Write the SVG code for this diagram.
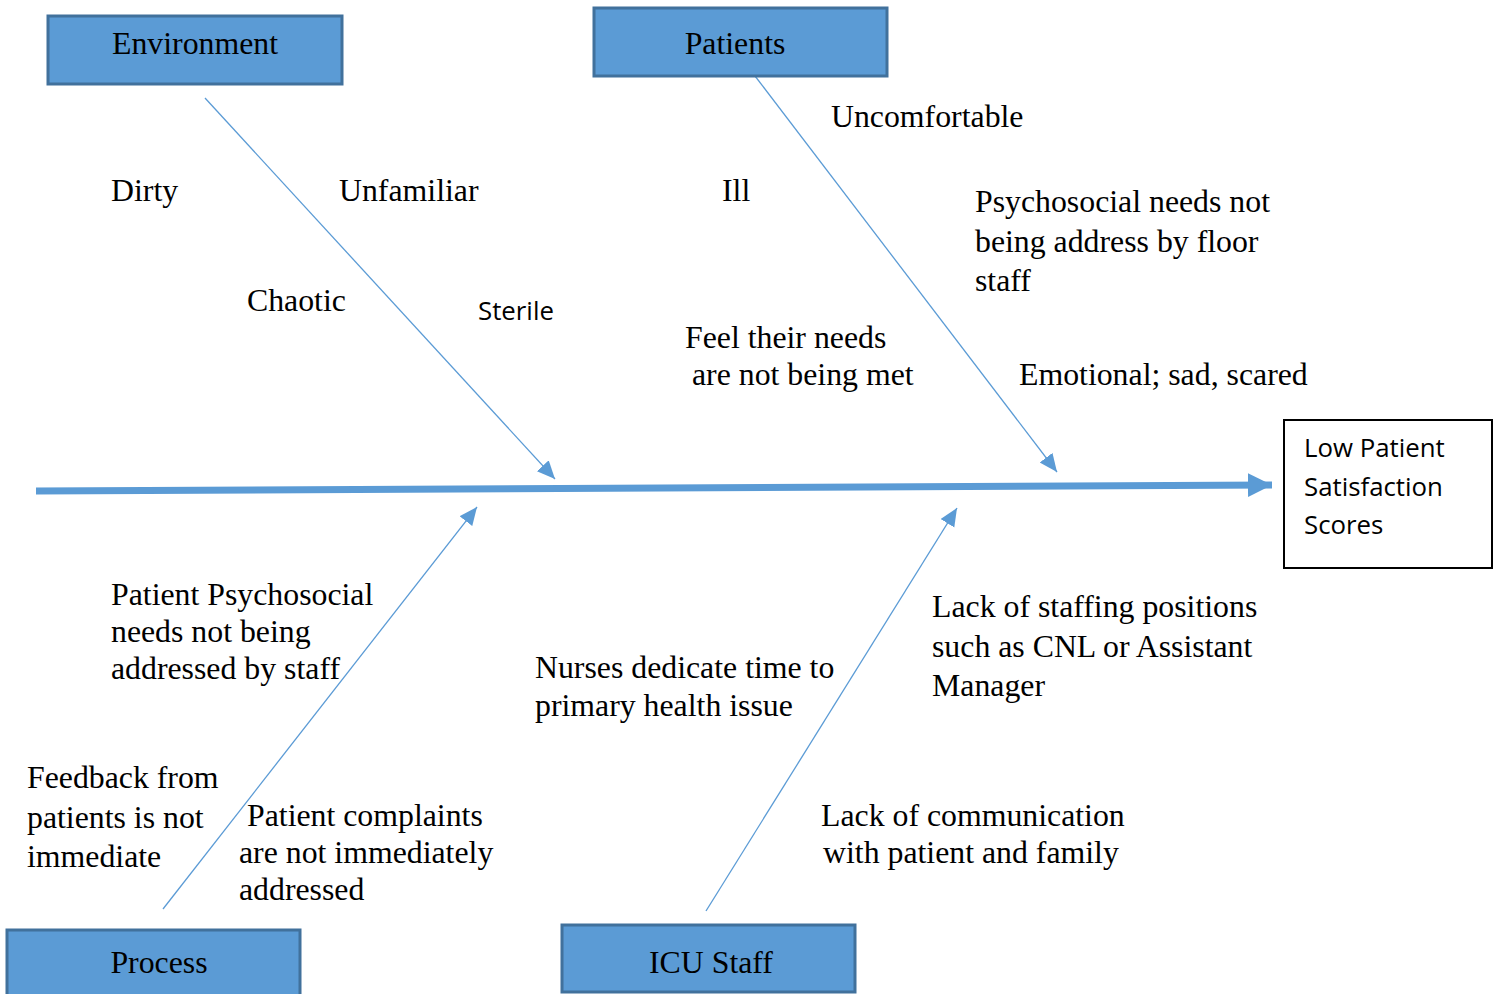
<svg xmlns="http://www.w3.org/2000/svg" width="1500" height="994" viewBox="0 0 1500 994">
<defs>
<style>
.cat{fill:#5B9BD5;stroke:#41719C;stroke-width:3}
.t{font-family:"Liberation Serif","Times New Roman",serif;font-size:31.8px;fill:#000}
.tc{font-family:"Liberation Serif","Times New Roman",serif;font-size:31.8px;fill:#000;text-anchor:middle}
.s{font-family:"Open Sans","Liberation Sans",sans-serif;font-size:25.8px;fill:#000}
.bone{stroke:#5B9BD5;stroke-width:1.3;fill:none}
</style>
<marker id="ah" markerUnits="userSpaceOnUse" markerWidth="22" markerHeight="18" refX="18" refY="8" orient="auto">
<path d="M0,0 L18,8 L0,16 Z" fill="#5B9BD5"/>
</marker>
<marker id="big" markerUnits="userSpaceOnUse" markerWidth="26" markerHeight="28" refX="24" refY="12" orient="auto">
<path d="M0,0 L24,12 L0,24 Z" fill="#5B9BD5"/>
</marker>
</defs>
<rect width="1500" height="994" fill="#fff"/>
<g id="connectors">
<line x1="36" y1="491" x2="1272" y2="485" stroke="#5B9BD5" stroke-width="7" marker-end="url(#big)"/>
<line class="bone" x1="205" y1="98" x2="555" y2="479" marker-end="url(#ah)"/>
<line class="bone" x1="755" y1="76" x2="1057" y2="472" marker-end="url(#ah)"/>
<line class="bone" x1="163" y1="909" x2="477" y2="507" marker-end="url(#ah)"/>
<line class="bone" x1="706" y1="911" x2="957" y2="508" marker-end="url(#ah)"/>
</g>
<g id="environment">
<rect class="cat" x="48" y="16" width="294" height="68"/>
<text class="tc" x="195" y="54">Environment</text>
</g>
<g id="patients">
<rect class="cat" x="594" y="8" width="293" height="68"/>
<text class="tc" x="735" y="54">Patients</text>
</g>
<g id="process">
<rect class="cat" x="7" y="930" width="293" height="68"/>
<text class="tc" x="159" y="973">Process</text>
</g>
<g id="icu-staff">
<rect class="cat" x="562" y="925" width="293" height="67"/>
<text class="tc" x="711" y="973">ICU Staff</text>
</g>
<g id="effect">
<rect x="1284" y="420" width="208" height="148" fill="#fff" stroke="#000" stroke-width="2"/>
<text class="s" x="1304" y="457">Low Patient</text>
<text class="s" x="1304" y="496">Satisfaction</text>
<text class="s" x="1304" y="534">Scores</text>
</g>
<g id="labels">
<text class="t" x="111" y="201">Dirty</text>
<text class="t" x="339" y="201">Unfamiliar</text>
<text class="t" x="722" y="201">Ill</text>
<text class="t" x="831" y="127">Uncomfortable</text>
<text class="t" x="975" y="212">Psychosocial needs not</text>
<text class="t" x="975" y="252">being address by floor</text>
<text class="t" x="975" y="291">staff</text>
<text class="t" x="247" y="311">Chaotic</text>
<text class="s" x="478" y="320">Sterile</text>
<text class="t" x="685" y="348">Feel their needs</text>
<text class="t" x="692" y="385">are not being met</text>
<text class="t" x="1019" y="385">Emotional; sad, scared</text>
<text class="t" x="111" y="605">Patient Psychosocial</text>
<text class="t" x="111" y="642">needs not being</text>
<text class="t" x="111" y="679">addressed by staff</text>
<text class="t" x="535" y="678">Nurses dedicate time to</text>
<text class="t" x="535" y="716">primary health issue</text>
<text class="t" x="932" y="617">Lack of staffing positions</text>
<text class="t" x="932" y="657">such as CNL or Assistant</text>
<text class="t" x="932" y="696">Manager</text>
<text class="t" x="27" y="788">Feedback from</text>
<text class="t" x="27" y="828">patients is not</text>
<text class="t" x="27" y="867">immediate</text>
<text class="t" x="247" y="826">Patient complaints</text>
<text class="t" x="239" y="863">are not immediately</text>
<text class="t" x="239" y="900">addressed</text>
<text class="t" x="821" y="826">Lack of communication</text>
<text class="t" x="823" y="863">with patient and family</text>
</g>
</svg>
